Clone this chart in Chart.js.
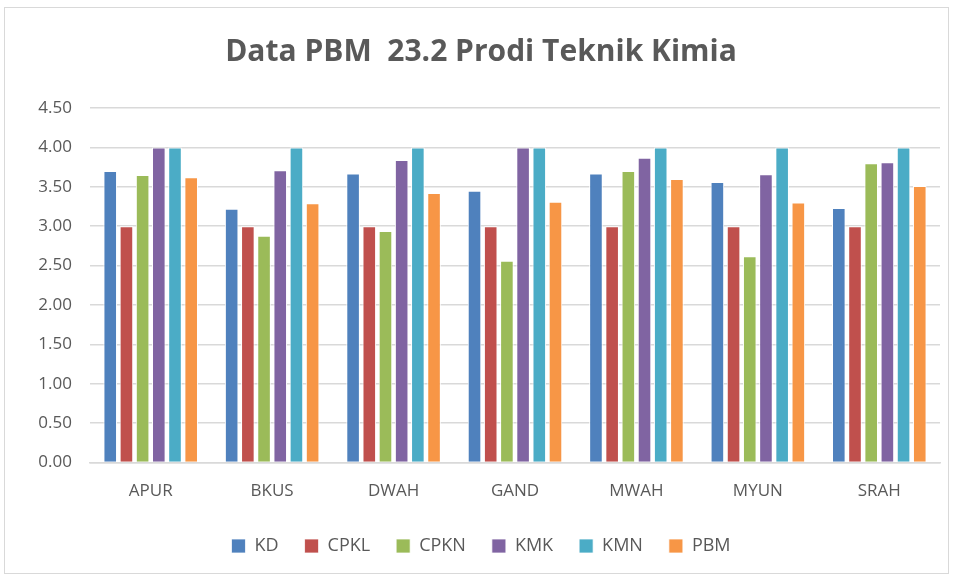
<!DOCTYPE html>
<html>
<head>
<meta charset="utf-8">
<script src="https://cdn.jsdelivr.net/npm/chart.js@4/dist/chart.umd.min.js"></script>
<style>
  body{margin:0;background:#fff;}
  #wrap{position:relative;width:955px;height:579px;}
  #frame{position:absolute;left:4px;top:7px;width:945px;height:567px;border:1px solid #d9d9d9;box-sizing:border-box;pointer-events:none;}
</style>
</head>
<body>
<div id="wrap">
  <canvas id="pbmChart" width="955" height="579"></canvas>
  <div id="frame"></div>
</div>
<script>
const students = ["APUR","BKUS","DWAH","GAND","MWAH","MYUN","SRAH"];
const kd   = [3.70, 3.22, 3.67, 3.45, 3.67, 3.56, 3.23];
const cpkl = [3.00, 3.00, 3.00, 3.00, 3.00, 3.00, 3.00];
const cpkn = [3.65, 2.88, 2.94, 2.56, 3.70, 2.62, 3.80];
const kmk  = [4.00, 3.71, 3.84, 4.00, 3.87, 3.66, 3.81];
const kmn  = [4.00, 4.00, 4.00, 4.00, 4.00, 4.00, 4.00];
const pbm  = [3.62, 3.29, 3.42, 3.31, 3.60, 3.30, 3.51];

const txt = "#595959";
const font = "'Open Sans', 'Liberation Sans', sans-serif";

function ds(label, data, color){
  return {label, data, backgroundColor:color, borderColor:"#ffffff", borderWidth:{left:1,right:1,top:1,bottom:0},
    barPercentage:0.84, categoryPercentage:0.8};
}

new Chart(document.getElementById("pbmChart"),{
  type:"bar",
  data:{
    labels:students,
    datasets:[
      ds("KD",kd,"#4f81bd"),
      ds("CPKL",cpkl,"#c0504d"),
      ds("CPKN",cpkn,"#9bbb59"),
      ds("KMK",kmk,"#8064a2"),
      ds("KMN",kmn,"#4bacc6"),
      ds("PBM",pbm,"#f79646")
    ]
  },
  options:{
    responsive:false,
    animation:false,
    layout:{padding:{left:22,right:15,top:30,bottom:14}},
    plugins:{
      title:{display:true,text:"Data PBM  23.2 Prodi Teknik Kimia",color:txt,
        font:{family:font,size:30,weight:"bold"},padding:{top:4,bottom:38}},
      legend:{position:"bottom",labels:{color:txt,font:{family:font,size:18},boxWidth:14,boxHeight:14,padding:26}},
      tooltip:{enabled:false}
    },
    scales:{
      x:{
        grid:{display:false},
        border:{color:"#d9d9d9",width:1.5},
        ticks:{color:txt,font:{family:font,size:17},padding:10}
      },
      y:{
        min:0,max:4.5,
        afterFit(s){s.width=68;},
        grid:{color:"#d9d9d9",lineWidth:1.5,drawTicks:false},
        border:{display:false},
        ticks:{stepSize:0.5,color:txt,font:{family:font,size:17},padding:18,
          callback:v=>v.toFixed(2)}
      }
    }
  }
});
</script>
</body>
</html>
